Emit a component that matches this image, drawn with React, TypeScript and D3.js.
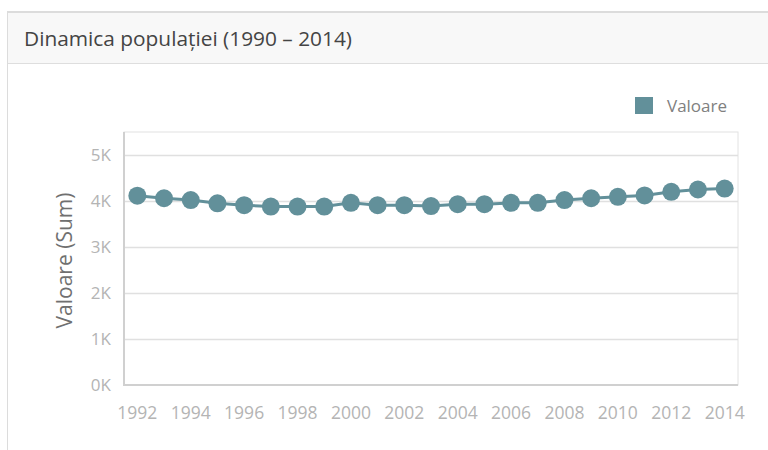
import React from "react";
import * as d3 from "d3";

const years: string[] = [
  "1992","1993","1994","1995","1996","1997","1998","1999","2000","2001","2002","2003",
  "2004","2005","2006","2007","2008","2009","2010","2011","2012","2013","2014",
];
const values: number[] = [
  4115, 4060, 4020, 3950, 3910, 3880, 3880, 3880, 3960, 3910, 3910, 3890,
  3930, 3930, 3960, 3960, 4020, 4060, 4090, 4120, 4200, 4250, 4270,
];
const yTicks: number[] = [0, 1000, 2000, 3000, 4000, 5000];
const xTickLabels: string[] = years.filter((_, i) => i % 2 === 0);
const seriesName = "Valoare";
const title = "Dinamica populației (1990 – 2014)";
const yAxisTitle = "Valoare (Sum)";

export default function App() {
  const W = 768, H = 450;
  const left = 124, right = 738, top = 132, bottom = 385;
  const color = "#62909a";
  const font = "'Open Sans', 'Noto Sans', sans-serif";

  const x = d3.scalePoint<string>().domain(years).range([left, right]).padding(0.5);
  const y = d3.scaleLinear().domain([0, 5500]).range([bottom, bottom - 5500 * 0.046]);
  const line = d3.line<number>().x((_, i) => x(years[i])!).y((d) => y(d));

  return (
    <svg width={W} height={H} style={{ position: "absolute", left: 0, top: 0, fontFamily: font }}>
      <rect x={0} y={0} width={W} height={H} fill="#fff" />
      {/* panel */}
      <rect x={7.5} y={11.5} width={780} height={460} fill="#fff" stroke="#dcdcdc" />
      <rect x={8} y={12} width={780} height={51} fill="#f8f8f8" />
      <line x1={8} x2={W} y1={12} y2={12} stroke="#dcdcdc" strokeWidth={2} />
      <line x1={8} x2={W} y1={63.5} y2={63.5} stroke="#dedede" />
      <text x={24} y={46} fontSize={20} fill="#444" textLength={328} lengthAdjust="spacingAndGlyphs">{title}</text>

      {/* legend */}
      <rect x={635} y={97} width={18} height={17} fill={color} />
      <text x={667} y={112} fontSize={17} fill="#808080">{seriesName}</text>

      {/* plot frame */}
      <rect x={left} y={top} width={right - left} height={bottom - top} fill="none" stroke="#e2e2e2" />
      {yTicks.map((t) => (
        <g key={t}>
          {t > 0 && (
            <line x1={left} x2={right} y1={Math.round(y(t)) + 0.5} y2={Math.round(y(t)) + 0.5} stroke="#e0e0e0" strokeWidth={1.5} />
          )}
          <text x={111} y={y(t) + 6} fontSize={17} fill="#b4b4b4" textAnchor="end">
            {`${t / 1000}K`}
          </text>
        </g>
      ))}
      <line x1={left} x2={left} y1={top} y2={bottom} stroke="#d0d0d0" strokeWidth={2} />
      <line x1={left - 1} x2={right} y1={bottom} y2={bottom} stroke="#d0d0d0" strokeWidth={2} />
      {xTickLabels.map((yr) => (
        <text key={yr} x={x(yr)!} y={419} fontSize={17.5} fill="#b4b4b4" textAnchor="middle">
          {yr}
        </text>
      ))}
      <text
        transform={`translate(72, ${(top + bottom) / 2 + 2}) rotate(-90)`}
        fontSize={21}
        fill="#707070"
        textAnchor="middle"
      >
        {yAxisTitle}
      </text>

      {/* series */}
      <path d={line(values) || ""} fill="none" stroke={color} strokeWidth={3} />
      {values.map((v, i) => (
        <circle key={years[i]} cx={x(years[i])!} cy={y(v)} r={9} fill={color} />
      ))}
    </svg>
  );
}
